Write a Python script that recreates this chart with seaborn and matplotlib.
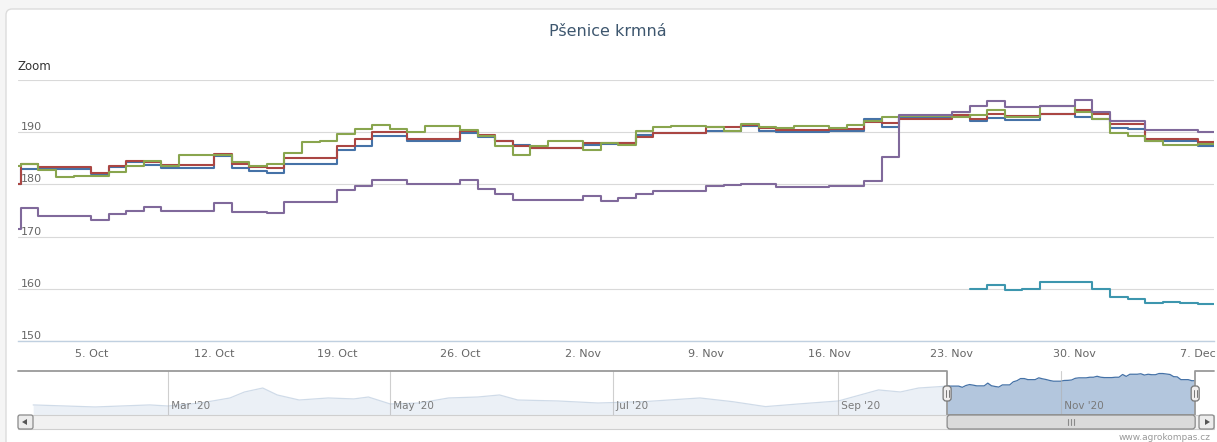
import pandas as pd
import matplotlib
matplotlib.use("Agg")
import matplotlib.pyplot as plt
import matplotlib.dates as mdates
from matplotlib.patches import FancyBboxPatch, Rectangle, Polygon
from matplotlib.lines import Line2D
from matplotlib.transforms import IdentityTransform
import seaborn as sns

sns.set_style("white")
plt.rcParams["font.family"] = ["DejaVu Sans"]

# daily prices 30 Sep -> 8 Dec 2020, each value holds until the next day
days = pd.date_range("2020-09-30", "2020-12-08", freq="D")

blue = [180.0,
        182.9, 182.9, 182.9, 182.9, 181.9, 183.4, 184.2, 183.7, 183.1, 183.1,
        183.1, 185.4, 183.2, 182.6, 182.1, 183.9, 183.9, 183.9, 186.5, 187.4,
        189.2, 189.2, 188.3, 188.3, 188.3, 189.8, 189.0, 188.4, 187.6, 187.0,
        187.0, 187.0, 187.6, 187.7, 188.0, 189.4, 189.8, 189.8, 189.8, 190.3,
        190.3, 191.1, 190.3, 190.0, 190.0, 190.0, 190.3, 190.3, 192.6, 191.0,
        192.8, 192.8, 192.8, 193.2, 192.1, 192.8, 192.4, 192.4, 193.4, 193.4,
        193.0, 192.6, 190.8, 190.6, 188.3, 188.3, 188.3, 187.4,
        187.4]
red = [180.0,
       183.9, 183.4, 183.4, 183.4, 182.1, 183.6, 184.5, 184.3, 183.7, 183.7,
       183.7, 185.8, 183.9, 183.4, 183.1, 185.0, 185.0, 185.0, 187.4, 188.7,
       190.0, 190.0, 188.7, 188.7, 188.7, 190.2, 189.4, 188.3, 187.4, 187.0,
       187.0, 187.0, 187.9, 187.9, 187.9, 189.0, 189.8, 189.8, 189.8, 191.0,
       191.0, 191.3, 190.8, 190.5, 190.5, 190.5, 190.6, 190.6, 191.9, 191.7,
       192.6, 192.6, 192.6, 193.2, 192.6, 193.4, 193.1, 193.1, 193.4, 193.4,
       194.2, 193.4, 191.5, 191.5, 188.7, 188.7, 188.7, 188.1,
       188.1]
green = [183.5,
         184.0, 182.8, 181.5, 181.7, 181.7, 182.4, 183.6, 184.4, 183.6, 185.7,
         185.7, 185.7, 184.2, 183.6, 184.0, 186.0, 188.2, 188.3, 189.6, 190.6,
         191.3, 190.6, 190.0, 191.2, 191.2, 190.4, 189.2, 187.4, 185.6, 187.4,
         188.4, 188.4, 186.6, 188.0, 187.6, 190.2, 191.0, 191.2, 191.2, 191.0,
         190.2, 191.6, 191.0, 190.8, 191.2, 191.2, 190.8, 191.3, 192.2, 193.0,
         193.1, 193.1, 193.1, 193.0, 193.3, 194.3, 192.9, 193.0, 195.1, 195.1,
         193.8, 192.6, 189.8, 189.2, 188.4, 187.6, 187.6, 187.8,
         188.8]
purple = [171.5,
          175.5, 173.9, 173.9, 173.9, 173.2, 174.3, 175.0, 175.6, 175.0, 175.0,
          175.0, 176.5, 174.7, 174.7, 174.6, 176.6, 176.6, 176.6, 179.0, 179.7,
          180.8, 180.8, 180.0, 180.0, 180.0, 180.8, 179.2, 178.1, 177.1, 177.1,
          177.1, 177.1, 177.7, 176.9, 177.3, 178.1, 178.7, 178.7, 178.7, 179.6,
          179.9, 180.1, 180.1, 179.5, 179.5, 179.5, 179.6, 179.6, 180.6, 185.2,
          193.3, 193.3, 193.3, 193.8, 195.1, 196.0, 194.9, 194.9, 195.1, 195.1,
          196.2, 193.8, 192.1, 192.1, 190.4, 190.4, 190.4, 190.0,
          190.0]
teal_days = pd.date_range("2020-11-24", "2020-12-08", freq="D")
teal = [160.0, 160.8, 159.7, 160.0, 161.3, 161.3, 161.3, 159.9, 158.5, 158.1,
        157.3, 157.4, 157.2, 157.1, 157.0]

# navigator history before the zoomed range
nav_hist_dates = pd.to_datetime([
    "2020-01-24", "2020-02-10", "2020-02-25", "2020-03-01", "2020-03-10",
    "2020-03-18", "2020-03-22", "2020-03-27", "2020-03-31", "2020-04-06",
    "2020-04-14", "2020-04-21", "2020-04-25", "2020-05-01", "2020-05-09",
    "2020-05-17", "2020-05-25", "2020-05-31", "2020-06-05", "2020-06-16",
    "2020-06-27", "2020-07-10", "2020-07-25", "2020-08-03", "2020-08-12",
    "2020-08-21", "2020-09-01", "2020-09-12", "2020-09-18", "2020-09-23"])
nav_hist_values = [167.2, 165.5, 167.2, 166.3, 168.8, 173.0, 178.0, 181.3, 175.5, 171.3,
                   173.0, 172.2, 173.8, 168.0, 168.8, 173.0, 173.8, 175.5, 171.3, 170.5,
                   168.8, 170.0, 173.0, 169.9, 165.8, 168.0, 170.5, 179.7, 178.0, 181.3]

names = ["s1", "s2", "s3", "s4", "s5"]
colors = {"s1": "#4572A7", "s2": "#AA4643", "s3": "#89A54E", "s4": "#80699B", "s5": "#3D96AE"}

long = pd.concat([
    pd.DataFrame({"date": days, "price": blue, "series": "s1"}),
    pd.DataFrame({"date": days, "price": red, "series": "s2"}),
    pd.DataFrame({"date": days, "price": green, "series": "s3"}),
    pd.DataFrame({"date": days, "price": purple, "series": "s4"}),
    pd.DataFrame({"date": teal_days, "price": teal, "series": "s5"}),
], ignore_index=True)

nav_df = pd.DataFrame({"date": list(nav_hist_dates) + list(days[1:]),
                       "price": nav_hist_values + blue[1:]})

W, H = 1217, 442
PIX = IdentityTransform()
fig = plt.figure(figsize=(W / 100, H / 100), dpi=100, facecolor="#f5f5f5")


def frac(x0, y0, x1, y1):
    return [x0 / W, 1 - y1 / H, (x1 - x0) / W, (y1 - y0) / H]


fig.add_artist(FancyBboxPatch((6, -30), 1260, H - 9 + 30,
                              boxstyle="round,pad=0,rounding_size=6",
                              fc="white", ec="#dcdcdc", lw=1, transform=PIX, zorder=-10))

sel_x0 = pd.Timestamp("2020-09-30 20:00")
sel_x1 = pd.Timestamp("2020-12-07 22:00")

# main chart
ax = fig.add_axes(frac(18, 80, 1214, 341))
sns.lineplot(data=long, x="date", y="price", hue="series", hue_order=names,
             palette=colors, drawstyle="steps-post", linewidth=1.5,
             estimator=None, legend=False, ax=ax)
ax.set_xlim(sel_x0, sel_x1)
ax.set_ylim(150, 200)
ax.set_xlabel("")
ax.set_ylabel("")
ax.set_yticks([150, 160, 170, 180, 190, 200])
ax.set_yticklabels(["150", "160", "170", "180", "190", ""])
ax.grid(axis="y", color="#d9d9d9", lw=0.8)
ax.set_axisbelow(True)
ax.xaxis.set_major_locator(mdates.WeekdayLocator(byweekday=mdates.MO))
ax.xaxis.set_major_formatter(plt.FuncFormatter(
    lambda v, p: f"{mdates.num2date(v).day}. {mdates.num2date(v):%b}"))
ax.tick_params(axis="x", length=4, width=1, color="#C0D0E0", labelsize=8,
               labelcolor="#666666", pad=2)
ax.tick_params(axis="y", length=0, pad=-2, labelsize=8, labelcolor="#666666")
for lbl in ax.get_yticklabels():
    lbl.set_horizontalalignment("left")
    lbl.set_verticalalignment("bottom")
for s in ["left", "right", "top"]:
    ax.spines[s].set_visible(False)
ax.spines["bottom"].set_color("#C0D0E0")
ax.spines["bottom"].set_linewidth(1)

fig.text(608 / W, 1 - 31 / H, "Pšenice krmná", ha="center", va="center",
         fontsize=11.5, color="#3E576F")
fig.text(18 / W, 1 - 66 / H, "Zoom", ha="left", va="center", fontsize=8.5,
         color="#333333")
fig.text(1211 / W, 1 - 437 / H, "www.agrokompas.cz", ha="right", va="center",
         fontsize=6.5, color="#9a9a9a")

# navigator
nav_x0 = pd.Timestamp("2020-01-19 20:00")
nav_x1 = pd.Timestamp("2020-12-13 02:00")
nav_lo, nav_hi = 158.8, 195.5
nav = fig.add_axes(frac(18, 371, 1214, 415))
nav.fill_between(nav_df["date"], nav_df["price"], nav_lo, color="#b3c6dd", lw=0, zorder=1)
sns.lineplot(data=nav_df, x="date", y="price", color="#4572A7", linewidth=0.9,
             estimator=None, ax=nav, zorder=2)
nav.set_xlim(nav_x0, nav_x1)
nav.set_ylim(nav_lo, nav_hi)
nav.axvspan(nav_x0, sel_x0, color="white", alpha=0.75, lw=0, zorder=2.2)
nav.axvspan(sel_x1, nav_x1, color="white", alpha=0.75, lw=0, zorder=2.2)
nav.set_xlabel("")
nav.set_ylabel("")
nav.xaxis.set_major_locator(mdates.MonthLocator(bymonth=[3, 5, 7, 9, 11]))
nav.xaxis.set_major_formatter(mdates.DateFormatter(" %b '%y"))
nav.grid(axis="x", color="#b0b0b0", alpha=0.6, lw=0.8)
nav.set_axisbelow(False)
nav.tick_params(axis="x", length=0, pad=-3, labelsize=7.5, labelcolor="#7a7a7a")
nav.tick_params(axis="y", left=False, labelleft=False)
for lbl in nav.get_xticklabels():
    lbl.set_horizontalalignment("left")
    lbl.set_verticalalignment("bottom")
for s in nav.spines.values():
    s.set_visible(False)
xs = mdates.date2num([nav_x0, sel_x0, sel_x0, sel_x1, sel_x1, nav_x1])
nav.plot(xs, [1, 1, 0, 0, 1, 1], transform=nav.get_xaxis_transform(),
         color="#9a9a9a", lw=1.3, clip_on=False, zorder=5)

hx0 = nav.transData.transform((mdates.date2num(sel_x0), 0))[0]
hx1 = nav.transData.transform((mdates.date2num(sel_x1), 0))[0]

# scrollbar
fig.add_artist(Rectangle((18, H - 429), 1196, 14, fc="#f1f1f1", ec="#cfcfcf",
                         lw=0.8, transform=PIX, zorder=10))
fig.add_artist(FancyBboxPatch((hx0, H - 429), hx1 - hx0, 14,
                              boxstyle="round,pad=0,rounding_size=3",
                              fc="#dadada", ec="#8a8a8a", lw=0.9, transform=PIX, zorder=11))
cx = (hx0 + hx1) / 2
for dx in (-3, 0, 3):
    fig.add_artist(Line2D([cx + dx, cx + dx], [H - 425, H - 419], color="#8a8a8a",
                          lw=0.8, transform=PIX, zorder=12))
for bx, pts in ((18, [(22, 422), (27, 419), (27, 425)]),
                (1199, [(1210, 422), (1205, 419), (1205, 425)])):
    fig.add_artist(FancyBboxPatch((bx, H - 429), 15, 14,
                                  boxstyle="round,pad=0,rounding_size=2",
                                  fc="#ececec", ec="#8a8a8a", lw=0.9, transform=PIX, zorder=11))
    fig.add_artist(Polygon([(px, H - py) for px, py in pts], closed=True,
                           fc="#555555", ec="none", transform=PIX, zorder=12))

# navigator handles
for hx in (hx0, hx1):
    fig.add_artist(FancyBboxPatch((hx - 4, H - 401), 8, 15,
                                  boxstyle="round,pad=0,rounding_size=3",
                                  fc="#f0eeee", ec="#777777", lw=0.9, transform=PIX, zorder=12))
    for dx in (-1.5, 1.5):
        fig.add_artist(Line2D([hx + dx, hx + dx], [H - 397, H - 390], color="#777777",
                              lw=0.7, transform=PIX, zorder=13))

fig.savefig("out.png", dpi=100, facecolor=fig.get_facecolor())
